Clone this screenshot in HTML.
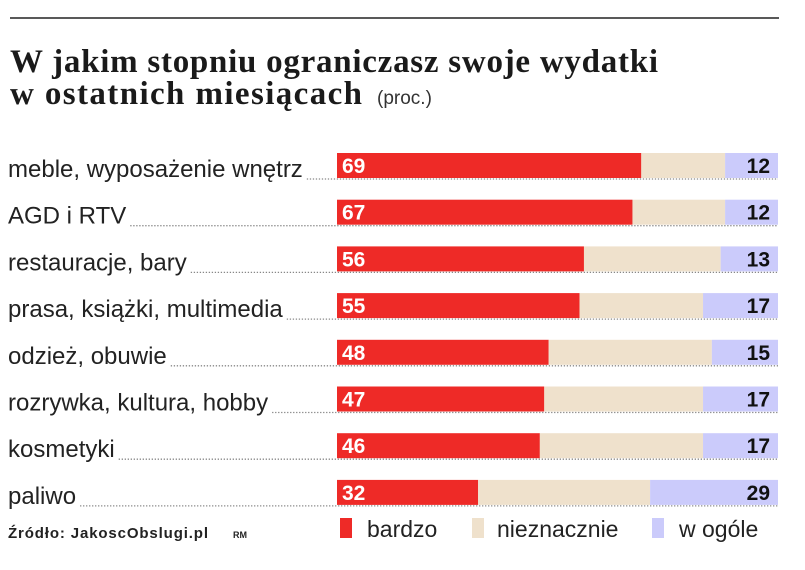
<!DOCTYPE html>
<html><head><meta charset="utf-8"><style>
body{margin:0;background:#fff;width:805px;height:565px;overflow:hidden;font-family:"Liberation Sans",sans-serif}
</style></head><body>
<svg width="805" height="565" xmlns="http://www.w3.org/2000/svg">
<line x1="10" y1="18" x2="779" y2="18" stroke="#222" stroke-width="1.5"/>
<text x="10" y="72" font-family="Liberation Serif" font-weight="bold" font-size="33" fill="#1a1a1a" textLength="648">W jakim stopniu ograniczasz swoje wydatki</text>
<text x="10" y="104" font-family="Liberation Serif" font-weight="bold" font-size="33" fill="#1a1a1a" textLength="352">w ostatnich miesiącach</text>
<text x="377" y="104" font-size="19" fill="#333">(proc.)</text>
<g id="bars"></g>
<g>
<rect x="340" y="518" width="12" height="20" fill="#ee2a27"/>
<text x="367" y="537" font-size="23" fill="#222">bardzo</text>
<rect x="472" y="518" width="12" height="20" fill="#efe1cc"/>
<text x="497" y="537" font-size="23" fill="#222">nieznacznie</text>
<rect x="652" y="518" width="12" height="20" fill="#cbcbfb"/>
<text x="679" y="537" font-size="23" fill="#222">w ogóle</text>
</g>
<text x="8" y="538" font-size="15" font-weight="bold" fill="#222" textLength="200">Źródło: JakoscObslugi.pl</text>
<text x="233" y="538" font-size="9" font-weight="bold" fill="#222">RM</text>
</svg>
<script>
const categories=["meble, wyposażenie wnętrz","AGD i RTV","restauracje, bary","prasa, książki, multimedia","odzież, obuwie","rozrywka, kultura, hobby","kosmetyki","paliwo"];
const bardzo=[69,67,56,55,48,47,46,32];
const wOgole=[12,12,13,17,15,17,17,29];
const NS="http://www.w3.org/2000/svg";
const g=document.getElementById('bars');
const x0=337,xW=441;
const xs=v=>x0+v/100*xW;
const rowY=i=>153+i*46.7;
function mk(t,a){const e=document.createElementNS(NS,t);for(const k in a)e.setAttribute(k,a[k]);g.appendChild(e);return e;}
categories.forEach((c,i)=>{
  const y=rowY(i),h=25;
  const lab=mk('text',{x:8,y:y+h-1,'font-size':24,fill:'#222'});
  lab.textContent=c;
  
  
  const tw=lab.getComputedTextLength();
  const dl=mk('line',{x1:8+tw+4,x2:xs(100),y1:y+h+1,y2:y+h+1,stroke:'#888','stroke-width':1.3,'stroke-dasharray':'1.3 1.7'});
  
  
  const b=bardzo[i],w=wOgole[i],n=100-b-w;
  const r1=mk('rect',{x:xs(0),y:y,width:xs(b)-xs(0),height:h,fill:'#ee2a27'});
  
  
  const r2=mk('rect',{x:xs(b),y:y,width:xs(b+n)-xs(b),height:h,fill:'#efe1cc'});
  
  
  const r3=mk('rect',{x:xs(b+n),y:y,width:xs(100)-xs(b+n),height:h,fill:'#cbcbfb'});
  
  
  const t1=mk('text',{x:xs(0)+5,y:y+h-5,'font-size':21,'font-weight':'bold',fill:'#fff'});
  t1.textContent=b;
  
  
  const t2=mk('text',{x:xs(100)-8,y:y+h-5,'font-size':21,'font-weight':'bold',fill:'#111','text-anchor':'end'});
  t2.textContent=w;
  
  
});
</script>
</body></html>
